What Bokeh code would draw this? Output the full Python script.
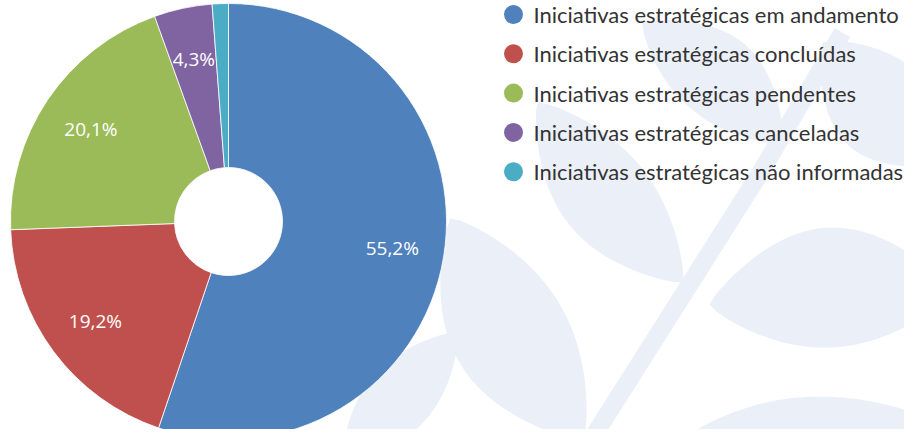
import numpy as np
from bokeh.plotting import figure
from bokeh.models import Range1d, ColumnDataSource
from bokeh.core.properties import value
from bokeh.embed import file_html
from bokeh.resources import INLINE

# ---- data ----
categories = [
    "Iniciativas estratégicas em andamento",
    "Iniciativas estratégicas concluídas",
    "Iniciativas estratégicas pendentes",
    "Iniciativas estratégicas canceladas",
    "Iniciativas estratégicas não informadas",
]
shares = [55.2, 19.2, 20.1, 4.3, 1.2]
labels = ["55,2%", "19,2%", "20,1%", "4,3%", ""]
colors = ["#4F81BD", "#C0504D", "#9BBB59", "#8064A2", "#4BACC6"]

# ---- layout (page pixel coords mapped to data) ----
W, H = 904, 429
PAGE_H = 445


def Y(py):
    return PAGE_H - py


p = figure(width=W, height=H, output_backend="svg", toolbar_location=None,
           x_range=Range1d(8, 8 + W), y_range=Range1d(PAGE_H - 8 - H, PAGE_H - 8),
           min_border=0, background_fill_color="white", border_fill_color="white")
p.axis.visible = False
p.grid.visible = False
p.outline_line_color = None

# ---- faint leaf watermark (decoration) ----
wm = "#EBF0F8"


def leaf(a, b, hw, bend=0.0):
    a = np.array(a, float); b = np.array(b, float)
    t = np.linspace(0, 1, 40)
    d = b - a
    n = np.array([-d[1], d[0]]) / np.hypot(*d)
    axis = a[None, :] + t[:, None] * d[None, :] + (bend * np.sin(np.pi * t))[:, None] * n[None, :]
    w = hw * np.sin(np.pi * t) ** 0.8
    left = axis + w[:, None] * n[None, :]
    right = axis - w[:, None] * n[None, :]
    pts = np.vstack([left, right[::-1]])
    return list(pts[:, 0]), [Y(v) for v in pts[:, 1]]


leaves = [
    leaf((458, 226), (590, 448), 58, 8),
    leaf((545, 110), (690, 290), 46, 6),
    leaf((717, 312), (960, 298), 60, -10),
    leaf((650, 478), (930, 425), 44, 0),
    leaf((650, 30), (790, 150), 42, -8),
    leaf((830, 50), (960, 170), 50, 8),
    leaf((350, 470), (465, 340), 34, 0),
]
p.patches([l[0] for l in leaves], [l[1] for l in leaves], fill_color=wm, line_color=None)
p.line([597, 768, 850], [Y(450), Y(180), Y(40)], line_color=wm, line_width=18)

# ---- donut ----
cx, cy = 236, Y(229)
r_out, r_in = 218, 54
fr = np.array(shares) / sum(shares)
cum = np.concatenate([[0], np.cumsum(fr)])
start = np.pi / 2 - 2 * np.pi * cum[:-1]
end = np.pi / 2 - 2 * np.pi * cum[1:]
src = ColumnDataSource(dict(start=start, end=end, color=colors))
p.annular_wedge(x=cx, y=cy, inner_radius=r_in, outer_radius=r_out,
                start_angle="start", end_angle="end", direction="clock",
                fill_color="color", line_color="white", line_width=0.8, source=src)

mid = (start + end) / 2
lr = 166
lsrc = ColumnDataSource(dict(x=cx + lr * np.cos(mid), y=cy + lr * np.sin(mid), t=labels))
p.text(x="x", y="y", text="t", source=lsrc, text_color="white",
       text_font=value("Open Sans"), text_font_size="19px",
       text_align="center", text_baseline="middle")

# ---- legend ----
ly = [Y(22 + 39.3 * i) for i in range(len(categories))]
p.scatter(x=[521] * len(categories), y=ly, size=19, marker="circle",
          fill_color=colors, line_color=None)
p.text(x=[541] * len(categories), y=ly, text=categories, text_color="#333333",
       text_font=value("Lato"), text_font_size="22px",
       text_align="left", text_baseline="middle")

open("out.html", "w").write(file_html(p, INLINE))
